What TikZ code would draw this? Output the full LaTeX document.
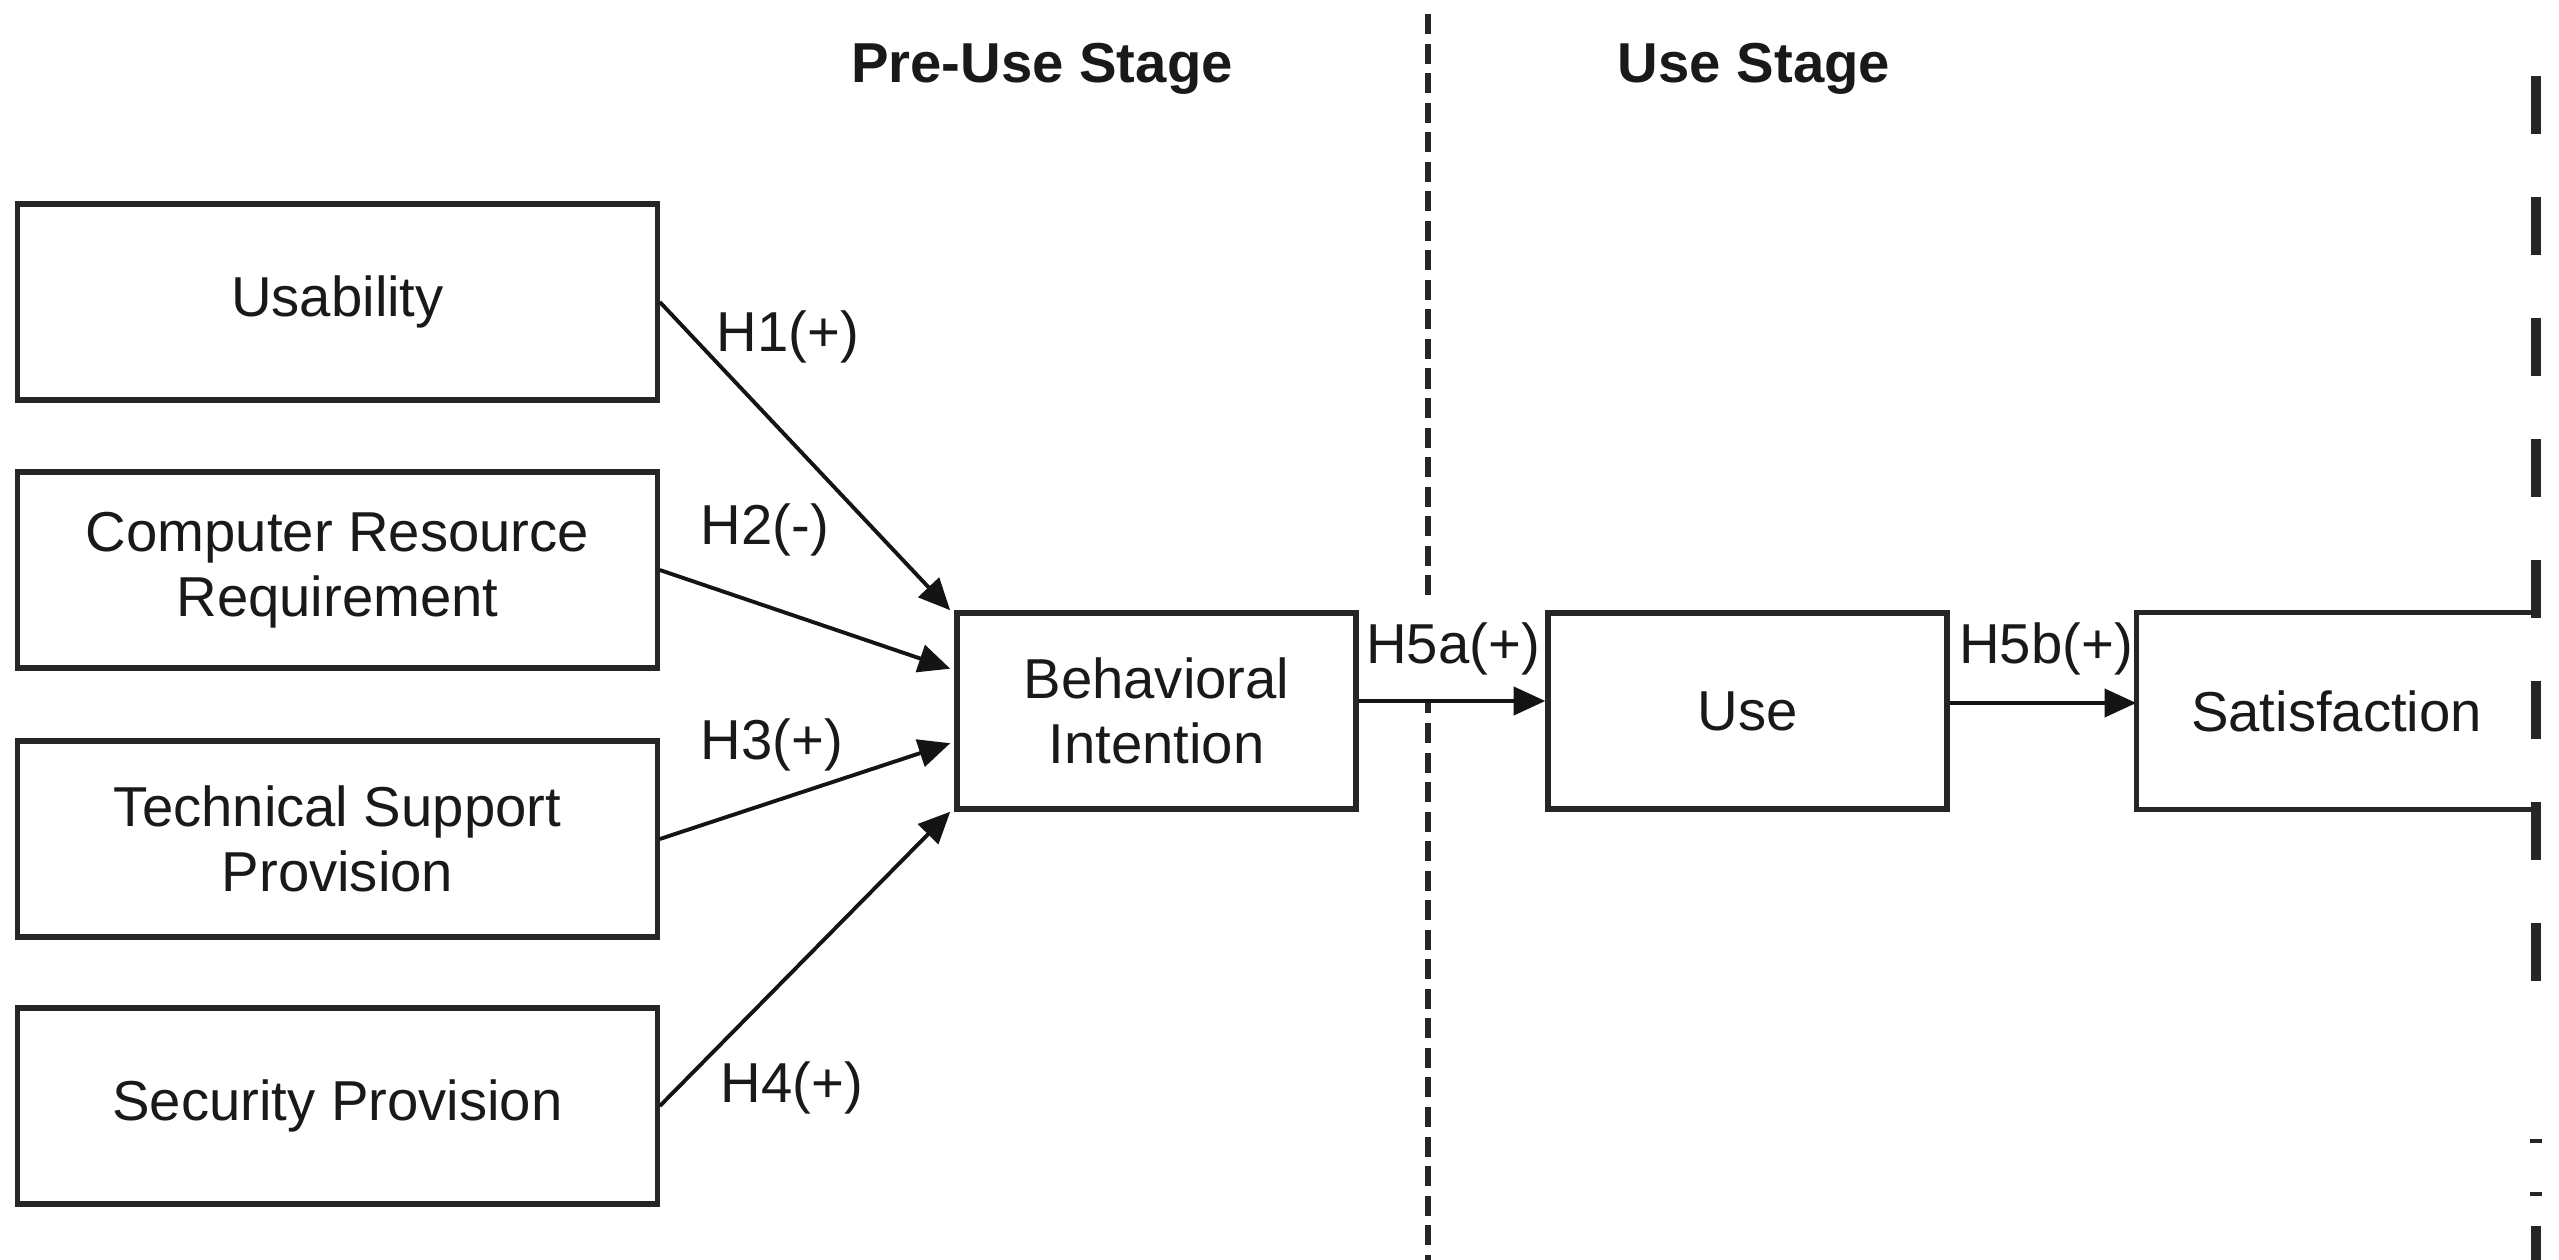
\documentclass[tikz,border=0pt]{standalone}
\usepackage{fontspec}
\setmainfont{Liberation Sans}
\usetikzlibrary{arrows.meta,calc}
\begin{document}
\begin{tikzpicture}[x=0.01cm,y=-0.01cm,
  txt/.style={font=\fontsize{16}{18.4}\selectfont, text=black!90},
  box/.style={txt, draw=black!85, line width=1.5pt, align=center, inner sep=0pt, minimum height=1.96cm},
  leftbox/.style={box, minimum width=6.39cm},
  midbox/.style={box, minimum width=3.99cm},
  openbox/.style={txt, align=center, inner sep=0pt, minimum height=1.96cm, minimum width=3.99cm},
  hyp/.style={txt, inner sep=0pt},
  stage/.style={font=\bfseries\fontsize{16}{18.4}\selectfont, text=black!90, inner sep=0pt},
  conn/.style={draw=black!92, line width=1.1pt, -{Triangle[length=9pt,width=8pt]}},
  divider/.style={draw=black!85, line width=1.5pt, dash pattern=on 5.7pt off 2.7pt},
  edgeline/.style={draw=black!85, line width=2.8pt, dash pattern=on 16.5pt off 17.9pt}
]
\useasboundingbox (0,0) rectangle (2559,1260);
\fill[white] (0,0) rectangle (2559,1260);

% stage divider
\draw[divider] (1428,14) -- (1428,1260);

% right edge marks
\draw[edgeline] (2536,76) -- (2536,981);
\draw[black!85, line width=1pt] (2530,1141) -- (2542,1141);
\draw[black!85, line width=1pt] (2530,1194) -- (2542,1194);
\draw[black!85, line width=3pt] (2536,1226) -- (2536,1260);

% stage titles
\node[stage] (pre) at (1042,69) {Pre-Use Stage};
\node[stage] (usest) at (1754,69) {Use Stage};

% boxes
\node[leftbox] (usab) at (337.5,302) {Usability};
\node[leftbox] (crr) at (337.5,570) {Computer Resource\\Requirement};
\node[leftbox] (tsp) at (337.5,839) {Technical Support\\Provision};
\node[leftbox] (sp) at (337.5,1106) {Security Provision};
\node[midbox] (bi) at (1156.5,711) {Behavioral\\Intention};
\node[midbox] (use) at (1747.5,711) {Use};
\node[openbox] (sat) at (2336.5,711) {Satisfaction};
\draw[black!85, line width=1.5pt] (sat.north east) -- (sat.north west) -- (sat.south west) -- (sat.south east);

% hypothesis arrows
\draw[conn] (usab.east) -- ([xshift=-0.04cm]bi.north west);
\draw[conn] (crr.east) -- ($(bi.north west)!0.29!(bi.south west)+(-4,0)$);
\draw[conn] (tsp.east) -- ($(bi.north west)!0.66!(bi.south west)+(-4,0)$);
\draw[conn] (sp.east) -- ([xshift=-0.04cm]bi.south west);

\node[hyp] (h1) at (788,337) {H1(+)};
\node[hyp] (h2) at (765,530) {H2(-)};
\node[hyp] (h3) at (772,745) {H3(+)};
\node[hyp] (h4) at (792,1088) {H4(+)};

% H5 arrows
\node[hyp, fill=white, minimum height=1.04cm] (h5a) at (1453,649) {H5a(+)};
\coordinate (bia) at ([yshift=0.1cm]bi.east);
\draw[conn] (bia) -- (bia -| use.west);
\node[hyp] (h5b) at (2046,649) {H5b(+)};
\coordinate (usea) at ([yshift=0.08cm]use.east);
\draw[conn] (usea) -- (usea -| sat.west);
\end{tikzpicture}
\end{document}
